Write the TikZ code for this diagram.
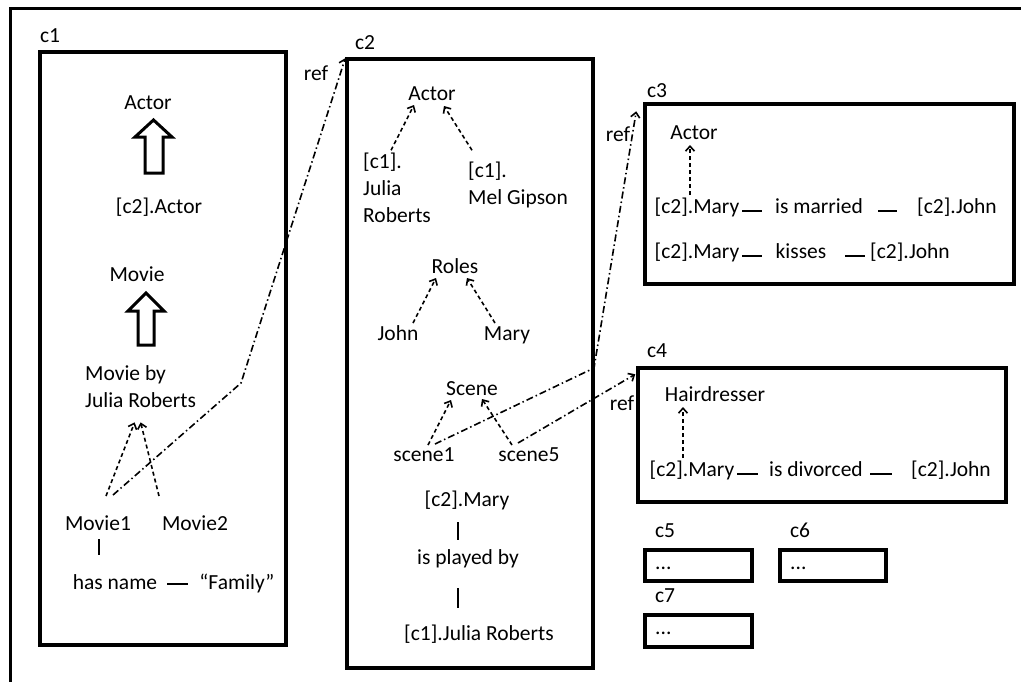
\documentclass[tikz,border=0pt]{standalone}
\usepackage{fontspec}
\setmainfont{Carlito}
\usetikzlibrary{arrows.meta}
\newcommand\fsz{\fontsize{21.5}{27}\selectfont}
\tikzset{
  txt/.style={font=\fsz, inner sep=0pt, anchor=base},
  mtxt/.style={font=\fsz, inner sep=0pt, align=left, anchor=base west},
  boxnode/.style={draw, line width=3.5pt, inner sep=0pt, fill=none},
  blockarrow/.style={draw, line width=3pt, line join=miter, fill=white},
  dasharrow/.style={-{Straight Barb[length=5pt,width=9pt,line width=1.6pt]}, dash pattern=on 4pt off 3pt, line width=1.6pt},
  refarrow/.style={-{Straight Barb[length=5pt,width=9pt,line width=1.6pt]}, dash pattern=on 7pt off 3pt on 1.5pt off 3pt, line width=1.6pt},
  relline/.style={line width=1.6pt},
}
\begin{document}
\begin{tikzpicture}[x=1pt,y=-1pt]
\useasboundingbox (0,0) rectangle (1021,681);
\clip (0,0) rectangle (1021,681);
% outer frame (cropped)
\draw[line width=3pt] (10,700) -- (10,8) -- (1040,8);

% boxes
\node[boxnode, minimum width=246pt, minimum height=593pt] (c1box) at (163,348.5) {};
\node[boxnode, minimum width=246pt, minimum height=609pt] (c2box) at (470,363.5) {};
\node[boxnode, minimum width=369pt, minimum height=180pt] (c3box) at (829.5,194) {};
\node[boxnode, minimum width=368pt, minimum height=134pt] (c4box) at (822,435) {};
\node[boxnode, minimum width=107pt, minimum height=31pt] (c5box) at (698.5,565.5) {};
\node[boxnode, minimum width=106pt, minimum height=31pt] (c6box) at (833,565.5) {};
\node[boxnode, minimum width=107pt, minimum height=32pt] (c7box) at (698.5,631) {};

% box labels
\node[txt] (lc1) at (50,42) {c1};
\node[txt] (lc2) at (365,49) {c2};
\node[txt] (lc3) at (657,97) {c3};
\node[txt] (lc4) at (657,357) {c4};
\node[txt] (lc5) at (665,537) {c5};
\node[txt] (lc6) at (800,537) {c6};
\node[txt] (lc7) at (665,602) {c7};

% c1 contents
\node[txt] (a1) at (148,109) {Actor};
\node[txt] (ca1) at (159,213) {[c2].Actor};
\node[txt] (mv) at (137,281) {Movie};
\node[mtxt] (mbj) at (85,407) {Movie by\\Julia Roberts};
\node[txt] (m1) at (98,530) {Movie1};
\node[txt] (m2) at (195,530) {Movie2};
\node[txt] (hn) at (115,589) {has name};
\node[txt] (fam) at (237,589) {“Family”};

\draw[blockarrow] (153.5,120) -- (172,137) -- (163,137) -- (163,173) -- (145,173) -- (145,137) -- (135,137) -- cycle;
\draw[blockarrow] (146,293) -- (164,311) -- (154,311) -- (154,345) -- (138,345) -- (138,311) -- (128,311) -- cycle;

\draw[dasharrow] ([shift={(8,-34)}]m1.base) -- ([shift={(-6,15)}]mbj.south);
\draw[dasharrow] ([shift={(-36,-34)}]m2.base) -- ([shift={(0,15)}]mbj.south);
\draw[relline] ([shift={(1,9)}]m1.base) -- ([shift={(-16,-34)}]hn.base);
\draw[relline] ([shift={(52,-5)}]hn.base) -- ([shift={(-49,-5)}]fam.base);

% c2 contents
\node[txt] (a2) at (432,100) {Actor};
\node[mtxt] (jr) at (363,222) {[c1].\\Julia\\Roberts};
\node[mtxt] (mg) at (468,204) {[c1].\\Mel Gipson};
\node[txt] (ro) at (455,273) {Roles};
\node[txt] (jo) at (398,340) {John};
\node[txt] (ma) at (507,340) {Mary};
\node[txt] (sc) at (472,395) {Scene};
\node[txt] (s1) at (424,461) {scene1};
\node[txt] (s5) at (529,461) {scene5};
\node[txt] (cm) at (467,506) {[c2].Mary};
\node[txt] (pb) at (468,564) {is played by};
\node[txt] (cj) at (479,640) {[c1].Julia Roberts};

\draw[dasharrow] ([shift={(-6,-2)}]jr.north) -- ([shift={(-18,5)}]a2.base);
\draw[dasharrow] ([shift={(-46,-11)}]mg.north) -- ([shift={(12,6)}]a2.base);
\draw[dasharrow] ([shift={(15,-17)}]jo.base) -- ([shift={(-19,5)}]ro.base);
\draw[dasharrow] ([shift={(-12,-17)}]ma.base) -- ([shift={(12,5)}]ro.base);
\draw[dasharrow] ([shift={(4,-16)}]s1.base) -- ([shift={(-21,5)}]sc.base);
\draw[dasharrow] ([shift={(-17,-16)}]s5.base) -- ([shift={(10,4)}]sc.base);
\draw[relline] ([shift={(-9,16)}]cm.base) -- ([shift={(-10,-24)}]pb.base);
\draw[relline] ([shift={(-10,24)}]pb.base) -- ([shift={(-21,-32)}]cj.base);

% c3 contents
\node[txt] (ac3) at (694,139) {Actor};
\node[txt] (m3) at (697,213) {[c2].Mary};
\node[txt] (im) at (819,213) {is married};
\node[txt] (j3) at (957,213) {[c2].John};
\node[txt] (m3b) at (697,258) {[c2].Mary};
\node[txt] (ki) at (801,258) {kisses};
\node[txt] (j3b) at (910,258) {[c2].John};
\draw[dasharrow] ([shift={(-7,-18)}]m3.base) -- ([shift={(-4,6)}]ac3.base);
\draw[relline] ([shift={(45,-2)}]m3.base) -- ([shift={(-57,-2)}]im.base);
\draw[relline] ([shift={(59,-2)}]im.base) -- ([shift={(-60,-2)}]j3.base);
\draw[relline] ([shift={(45,-2)}]m3b.base) -- ([shift={(-39,-2)}]ki.base);
\draw[relline] ([shift={(44,-2)}]ki.base) -- ([shift={(-45,-2)}]j3b.base);

% c4 contents
\node[txt] (hd) at (715,401) {Hairdresser};
\node[txt] (m4) at (692,476) {[c2].Mary};
\node[txt] (idv) at (816,476) {is divorced};
\node[txt] (j4) at (951,476) {[c2].John};
\draw[dasharrow] ([shift={(-9,-18)}]m4.base) -- ([shift={(-32,6)}]hd.base);
\draw[relline] ([shift={(45,-2)}]m4.base) -- ([shift={(-58,-2)}]idv.base);
\draw[relline] ([shift={(54,-2)}]idv.base) -- ([shift={(-59,-2)}]j4.base);

% c5-c7 contents
\node[txt, anchor=base west] (d5) at (655,569) {...};
\node[txt, anchor=base west] (d6) at (790,569) {...};
\node[txt, anchor=base west] (d7) at (655,634) {...};

% ref connectors
\coordinate (bend1) at (241,383);
\coordinate (bend2) at (594,368);
\draw[refarrow] ([shift={(15,-35)}]m1.base) -- (bend1) -- ([shift={(0,1)}]c2box.north west);
\draw[refarrow] ([shift={(11,-17)}]s1.base) -- (bend2) -- ([shift={(-7,9)}]c3box.north west);
\draw[refarrow] ([shift={(-11,-18)}]s5.base) -- ([shift={(-1,8)}]c4box.north west);
\node[txt] (ref1) at (316,80) {ref};
\node[txt] (ref2) at (618,141) {ref};
\node[txt] (ref3) at (622,410) {ref};
\end{tikzpicture}
\end{document}
